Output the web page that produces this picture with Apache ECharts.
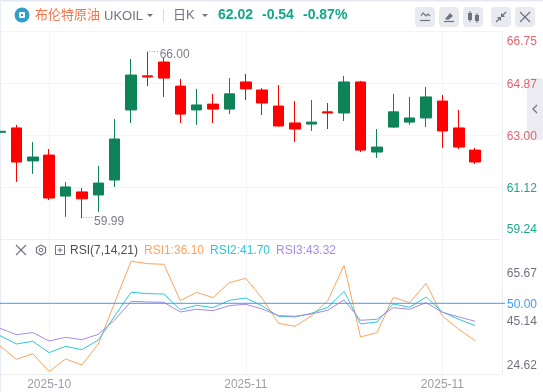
<!DOCTYPE html>
<html>
<head>
<meta charset="utf-8">
<style>
  html, body { margin: 0; padding: 0; background: #fff; overflow: hidden; }
  #chart { width: 543px; height: 392px; }
</style>
<script src="https://cdn.jsdelivr.net/npm/echarts@6/dist/echarts.min.js"></script>
</head>
<body>
<div id="chart"></div>
<script>
// 最后一格留空，所以月份比K线多一个
const months = [
  '2025-10','2025-10','2025-10','2025-10','2025-10','2025-10','2025-10','2025-10','2025-10','2025-10',
  '2025-10','2025-10','2025-10','2025-10','2025-10','2025-11','2025-11','2025-11','2025-11','2025-11',
  '2025-11','2025-11','2025-11','2025-11','2025-11','2025-11','2025-11','2025-11','2025-11','2025-11','2025-11'
];
const monthLabelAt = [3, 15, 27];

const opens  = [63.09,63.25,62.06,62.27,60.79,60.94,60.83,61.37,63.90,65.13,65.63,64.76,63.90,64.11,63.93,64.91,64.62,64.04,63.43,63.39,63.83,63.79,64.91,62.38,63.28,63.46,63.61,64.22,63.25,62.45];
const closes = [63.13,62.02,62.20,60.72,61.12,60.69,61.26,62.85,65.16,65.09,65.05,63.75,64.08,63.93,64.48,64.66,64.15,63.32,63.21,63.46,63.79,64.91,62.45,62.56,63.83,63.61,64.37,63.14,62.56,62.02];
const lows   = [63.07,61.30,61.59,60.65,60.04,59.99,60.22,61.12,63.43,64.76,64.37,63.43,63.36,63.43,63.75,64.26,63.72,63.30,62.74,63.14,63.21,63.50,62.38,62.17,63.25,63.36,63.28,62.53,62.49,61.95];
const highs  = [63.15,63.36,62.74,62.49,61.30,61.08,61.88,63.57,65.74,66.00,65.78,65.02,64.66,64.48,65.05,65.20,64.69,64.80,64.22,64.26,64.15,65.13,64.95,63.21,64.48,64.37,64.73,64.44,63.90,62.53];

const rsi1 = [34.14,29.18,31.29,24.62,29.31,27.08,34.88,50.25,65.67,64.74,64.50,50.99,54.09,52.11,57.68,59.29,51.86,42.57,41.45,45.29,50.99,64.12,37.49,39.10,52.23,50.25,57.43,45.29,40.33,36.10];
const rsi2 = [37.98,34.89,35.87,31.66,34.02,32.78,36.37,45.29,54.09,53.59,53.47,47.64,49.26,48.39,51.11,51.98,49.01,45.17,44.92,46.28,48.51,54.46,42.32,43.06,49.75,48.51,52.35,46.78,44.05,41.70];
const rsi3 = [40.71,38.35,39.10,35.98,37.36,36.49,38.48,43.80,50.74,50.50,50.37,46.78,47.77,47.27,49.13,49.63,47.89,45.41,45.17,46.03,47.40,51.24,43.68,44.05,48.39,47.77,50.25,46.65,44.92,43.32];

const priceTicks = [59.24, 61.12, 63.00, 64.87, 66.75];
const rsiTicks = [24.62, 45.14, 65.67];
const rsiMid = 50;

const FONT = '"Liberation Sans", "Noto Sans CJK SC", sans-serif';
const GREEN = '#0f8358';
const RED = '#ff0000';
const GRID_LINE = '#f3f4f7';
const ORANGE = '#ffa35c';
const CYAN = '#2ec7dc';
const PURPLE = '#a78be6';
const BLUE = '#3f9cf5';
const TICK_RED = '#e0636f';
const TICK_GREEN = '#1aa88b';
const TICK_GREY = '#6f7380';

const candleData = opens.map((o, i) => [o, closes[i], lows[i], highs[i]]);
const last = a => a[a.length - 1];

function txt(x, y, text, color, size, weight) {
  return {
    type: 'text', x: x, y: y, z: 20,
    style: { text: text, fill: color, fontSize: size || 12, fontFamily: FONT, fontWeight: weight || 'normal', verticalAlign: 'middle' }
  };
}
function rect(x, y, w, h, fill, r) {
  return { type: 'rect', shape: { x: x, y: y, width: w, height: h, r: r || 0 }, style: { fill: fill }, silent: true };
}
function line(x1, y1, x2, y2, color, w) {
  return { type: 'line', shape: { x1: x1, y1: y1, x2: x2, y2: y2 }, style: { stroke: color, lineWidth: w || 1.2, fill: 'none' } };
}
function poly(points, color) {
  return { type: 'polyline', shape: { points: points }, style: { stroke: color, fill: 'none', lineWidth: 1.2 } };
}
function solid(points, color) {
  return { type: 'polygon', shape: { points: points }, style: { fill: color } };
}

const ICON = '#6f7380';
const BTN = '#e8eaf0';

const graphics = [
  // 页面外框和标题栏
  rect(0, 0, 543, 1.5, '#e6e9f2'),
  rect(0, 0, 1, 392, '#e8ecf4'),
  rect(0, 31, 502, 1, '#f3f5f9'),
  // logo
  { type: 'circle', shape: { cx: 22, cy: 15, r: 7.5 }, style: { fill: '#2f9fc7' } },
  rect(19, 12, 6, 6, '#fff', 1),
  rect(21, 14, 2, 2, '#2f9fc7'),
  txt(35, 15, '布伦特原油', '#f5764d', 13),
  txt(104, 16, 'UKOIL', '#6f7380', 13),
  solid([[147, 14], [153, 14], [150, 17]], '#6f7380'),
  line(163.5, 9, 163.5, 22, '#d8dae0', 1),
  txt(173, 15, '日K', '#6f7380', 13),
  solid([[202, 14], [208, 14], [205, 17]], '#6f7380'),
  txt(218, 15, last(closes).toFixed(2), '#13a589', 14, 'bold'),
  txt(262, 15, '-0.54', '#13a589', 14, 'bold'),
  txt(303, 15, '-0.87%', '#13a589', 14, 'bold'),
  // 右上角按钮
  rect(415, 7, 20, 20, BTN, 4),
  rect(439, 7, 20, 20, BTN, 4),
  rect(463, 7, 20, 20, BTN, 4),
  rect(491, 7, 20, 20, BTN, 4),
  rect(515, 7, 20, 20, BTN, 4),
  poly([[421, 16], [423, 13], [426, 16], [428, 14], [430, 16]], ICON),
  line(420, 20.5, 430, 20.5, ICON, 1.2),
  solid([[445, 19], [450, 13], [453, 16], [448, 20]], ICON),
  line(444, 21.5, 454, 21.5, ICON, 1.2),
  rect(468, 13, 4, 7, ICON),
  line(470, 11, 470, 22, ICON, 1),
  rect(475, 15, 4, 6, ICON),
  line(477, 13, 477, 23, ICON, 1),
  line(496, 22, 500, 18, ICON, 1.2),
  solid([[501, 17], [501, 21], [497, 17]], ICON),
  line(506, 12, 502, 16, ICON, 1.2),
  solid([[501, 17], [501, 13], [505, 17]], ICON),
  line(520, 12, 530, 22, ICON, 1.2),
  line(530, 12, 520, 22, ICON, 1.2),
  // 右侧收起
  { type: 'rect', z: -1, shape: { x: 527, y: 78, width: 16, height: 62, r: 3 }, style: { fill: '#ececf2' }, silent: true },
  poly([[537, 105], [533, 109], [537, 113]], ICON),
  // RSI 标题行
  line(16, 245, 26, 255, ICON, 1.1),
  line(26, 245, 16, 255, ICON, 1.1),
  poly([[41, 245], [45.5, 247.5], [45.5, 252.5], [41, 255], [36.5, 252.5], [36.5, 247.5], [41, 245]], ICON),
  { type: 'circle', shape: { cx: 41, cy: 250, r: 1.8 }, style: { stroke: ICON, fill: 'none' } },
  { type: 'rect', shape: { x: 55.5, y: 245.5, width: 9, height: 9 }, style: { stroke: ICON, fill: 'none' } },
  line(57.5, 250, 62.5, 250, ICON, 1),
  line(60, 247.5, 60, 252.5, ICON, 1),
  txt(70, 250.5, 'RSI(7,14,21)', '#4a4d57', 12),
  txt(144, 250.5, 'RSI1:' + last(rsi1).toFixed(2), ORANGE, 12),
  txt(210, 250.5, 'RSI2:' + last(rsi2).toFixed(2), CYAN, 12),
  txt(276, 250.5, 'RSI3:' + last(rsi3).toFixed(2), PURPLE, 12)
];

const chart = echarts.init(document.getElementById('chart'), null, { renderer: 'canvas' });

function annotation(text, idx, price, dy) {
  return {
    coord: [idx, price], symbol: 'circle', symbolSize: 1,
    itemStyle: { color: 'transparent' },
    label: {
      show: true, position: 'right', distance: 0, offset: [0, dy],
      formatter: '{d|····}{v|' + text + '}',
      rich: {
        d: { color: '#8a8d97', fontSize: 8, fontFamily: FONT, padding: [0, 1, 6, 0] },
        v: { color: '#7b7e89', fontSize: 12, fontFamily: FONT }
      }
    }
  };
}

// 刻度文字相对刻度的上下偏移，用 padding 顶开
function tickRich(color, shifts) {
  const rich = {};
  shifts.forEach((s, i) => {
    rich['t' + i] = { color: color(i), fontSize: 12, fontFamily: FONT, padding: s > 0 ? [s * 2, 0, 0, 0] : [0, 0, -s * 2, 0] };
  });
  return rich;
}
const priceShift = [-9, 2, 2, 2, 11];
const rsiShift = [-6, 5.5, 13];

const option = {
  animation: false,
  backgroundColor: '#fff',
  graphic: graphics,
  grid: [
    { left: -8.2, width: 508, top: 31, height: 208, outerBoundsMode: 'none' },
    { left: -8.2, width: 508, top: 239, height: 135, outerBoundsMode: 'none' }
  ],
  xAxis: [
    {
      type: 'category', gridIndex: 0, data: months,
      axisLine: { lineStyle: { color: '#eeeff3' } }, axisTick: { show: false }, axisLabel: { show: false },
      splitLine: { show: true, alignWithLabel: true, interval: i => monthLabelAt.includes(i), lineStyle: { color: GRID_LINE } }
    },
    {
      type: 'category', gridIndex: 1, data: months,
      axisLine: { lineStyle: { color: '#eeeff3' } }, axisTick: { show: false },
      axisLabel: {
        interval: i => monthLabelAt.includes(i), color: '#9a9ea8', fontSize: 12, fontFamily: FONT, margin: 5,
        hideOverlap: false
      },
      splitLine: { show: true, alignWithLabel: true, interval: i => monthLabelAt.includes(i), lineStyle: { color: GRID_LINE } }
    }
  ],
  yAxis: [
    {
      type: 'value', gridIndex: 0, position: 'right', offset: 2, scale: true,
      min: priceTicks[0], max: last(priceTicks),
      axisLine: { show: true, lineStyle: { color: '#eeeff3' } },
      axisTick: { show: false, customValues: priceTicks },
      splitLine: { show: true, lineStyle: { color: GRID_LINE } },
      axisLabel: {
        customValues: priceTicks, margin: 5, fontSize: 12, fontFamily: FONT,
        formatter: v => '{t' + priceTicks.indexOf(v) + '|' + v.toFixed(2) + '}',
        rich: tickRich(i => (priceTicks[i] >= 62.02 ? TICK_RED : TICK_GREEN), priceShift)
      }
    },
    {
      type: 'value', gridIndex: 1, position: 'right', offset: 2,
      min: 23.72, max: 73.9,
      axisLine: { show: true, lineStyle: { color: '#eeeff3' } },
      axisTick: { show: false, customValues: rsiTicks },
      splitLine: { show: false },
      axisLabel: {
        customValues: rsiTicks, margin: 5, fontSize: 12, fontFamily: FONT,
        formatter: v => '{t' + rsiTicks.indexOf(v) + '|' + v.toFixed(2) + '}',
        rich: tickRich(() => TICK_GREY, rsiShift)
      }
    }
  ],
  series: [
    {
      name: 'UKOIL', type: 'candlestick', xAxisIndex: 0, yAxisIndex: 0,
      data: candleData, barWidth: 11,
      itemStyle: { color: GREEN, color0: RED, borderColor: GREEN, borderColor0: RED, borderWidth: 1 },
      markPoint: {
        silent: true,
        data: [annotation('66.00', 9, 66.00, 3), annotation('59.99', 5, 59.99, 3)]
      }
    },
    { name: 'RSI1', type: 'line', xAxisIndex: 1, yAxisIndex: 1, data: rsi1, symbol: 'none', lineStyle: { color: ORANGE, width: 1 } },
    { name: 'RSI2', type: 'line', xAxisIndex: 1, yAxisIndex: 1, data: rsi2, symbol: 'none', lineStyle: { color: CYAN, width: 1 } },
    { name: 'RSI3', type: 'line', xAxisIndex: 1, yAxisIndex: 1, data: rsi3, symbol: 'none', lineStyle: { color: PURPLE, width: 1 } }
  ]
};

chart.setOption(option);

// 50 这条线要画到坐标轴外面，位置从 RSI 轴换算
const midY = chart.convertToPixel({ yAxisIndex: 1 }, rsiMid);
chart.setOption({
  graphic: graphics.concat([
    { type: 'line', z: 15, shape: { x1: 0, y1: midY, x2: 505, y2: midY }, style: { stroke: BLUE, lineWidth: 1 } },
    txt(507, midY + 1, rsiMid.toFixed(2), BLUE, 12)
  ])
});
</script>
</body>
</html>
